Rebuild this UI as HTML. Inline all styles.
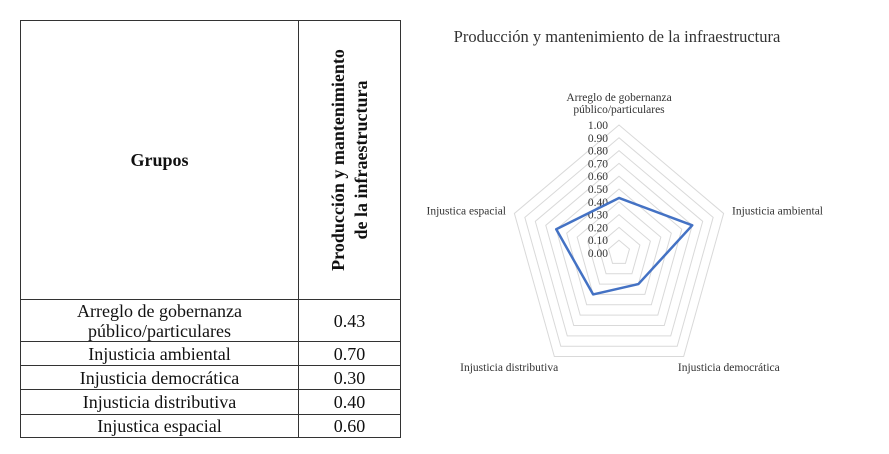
<!DOCTYPE html>
<html><head><meta charset="utf-8"><style>
body{margin:0;width:889px;height:454px;background:#fff;position:relative;overflow:hidden;font-family:"Liberation Serif",serif;}
table{position:absolute;left:20px;top:20px;border-collapse:collapse;width:381px;font-family:"Liberation Serif",serif;}
td{border:1px solid #333;padding:0;text-align:center;color:#111;font-size:18px;line-height:20px;}
</style></head><body>
<table>
<tr style="height:279px"><td style="width:277px;font-weight:bold;">Grupos</td>
<td style="position:relative;"><div style="position:absolute;left:50%;top:50%;transform:translate(-50%,-50%) rotate(-90deg);white-space:nowrap;font-weight:bold;line-height:23px;font-size:18px;">Producción y mantenimiento<br>de la infraestructura</div></td></tr>
<tr style="height:42px"><td>Arreglo de gobernanza<br>público/particulares</td><td>0.43</td></tr>
<tr style="height:24px"><td>Injusticia ambiental</td><td>0.70</td></tr>
<tr style="height:24px"><td>Injusticia democrática</td><td>0.30</td></tr>
<tr style="height:25px"><td>Injusticia distributiva</td><td>0.40</td></tr>
<tr style="height:23px"><td>Injustica espacial</td><td>0.60</td></tr>
</table>
<svg id="chart" width="889" height="454" style="position:absolute;left:0;top:0" font-family="Liberation Serif, serif">
<text x="617" y="42" text-anchor="middle" font-size="16.5" fill="#333">Producción y mantenimiento de la infraestructura</text>
</svg>
<script>
const categories=["Arreglo de gobernanza|público/particulares","Injusticia ambiental","Injusticia democrática","Injusticia distributiva","Injustica espacial"];
const values=[0.43,0.70,0.30,0.40,0.60];
const ticks=["0.00","0.10","0.20","0.30","0.40","0.50","0.60","0.70","0.80","0.90","1.00"];
const svg=document.getElementById('chart');const NS='http://www.w3.org/2000/svg';
const cx=619,cy=253,rx=110,ry=128;
function pt(i,v){const a=-Math.PI/2+i*2*Math.PI/5;return [cx+Math.cos(a)*rx*v,cy+Math.sin(a)*ry*v];}
function mk(t,at){const e=document.createElementNS(NS,t);for(const k in at)e.setAttribute(k,at[k]);svg.appendChild(e);return e;}
for(let k=1;k<ticks.length;k++){const v=k/(ticks.length-1);
const g=mk('polygon',{points:categories.map((c,i)=>pt(i,v).join(',')).join(' '),fill:'none',stroke:'#d9d9d9','stroke-width':1});

}
ticks.forEach((t,k)=>{const v=k/(ticks.length-1);const y=cy-ry*v;
const e=mk('text',{x:608,y:y+4,'text-anchor':'end','font-size':11.5,fill:'#333'});e.textContent=t;

});
const anchors=['middle','start','middle','middle','end'];
categories.forEach((c,i)=>{const p=pt(i,1.08);const lines=c.split('|');
let y=p[1]+4;if(i==0)y=p[1]-lines.length*12+10;if(i==2||i==3)y=p[1]+6;
let x=p[0];if(i==2)x+=40;if(i==3)x-=40;
lines.forEach((l,j)=>{const e=mk('text',{x:x,y:y+j*12,'text-anchor':anchors[i],'font-size':11.5,fill:'#333'});e.textContent=l;

});});
const s=mk('polygon',{points:values.map((v,i)=>pt(i,v).join(',')).join(' '),fill:'none',stroke:'#4472c4','stroke-width':2.5,'stroke-linejoin':'round'});


</script>
</body></html>
